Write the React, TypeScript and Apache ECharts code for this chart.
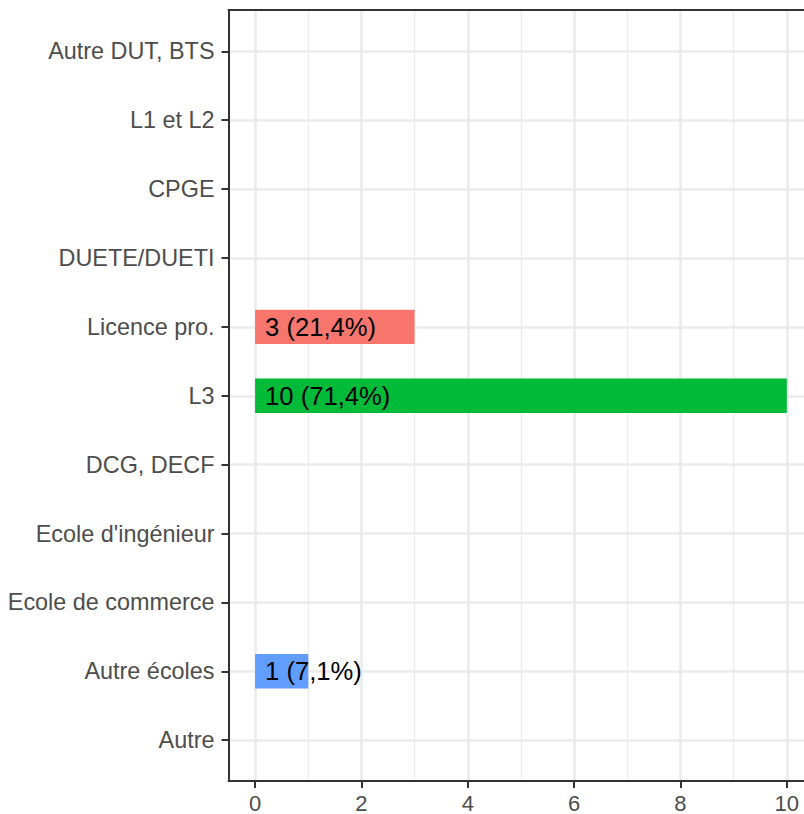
import React, { useEffect, useRef } from "react";
import * as echarts from "echarts";

const categories = [
  "Autre DUT, BTS",
  "L1 et L2",
  "CPGE",
  "DUETE/DUETI",
  "Licence pro.",
  "L3",
  "DCG, DECF",
  "Ecole d'ingénieur",
  "Ecole de commerce",
  "Autre écoles",
  "Autre",
];
const counts: (number | null)[] = [null, null, null, null, 3, 10, null, null, null, 1, null];
const barColors: (string | null)[] = [null, null, null, null, "#F8766D", "#00BA38", null, null, null, "#619CFF", null];
const majorTicks = [0, 2, 4, 6, 8, 10];
const minorTicks = [1, 3, 5, 7, 9];

const W = 820;
const H = 814;
const FONT = "'Liberation Sans', Arial, Helvetica, sans-serif";

export default function App() {
  const ref = useRef<HTMLDivElement>(null);
  useEffect(() => {
    if (!ref.current) return;
    const chart = echarts.init(ref.current, undefined, { renderer: "svg" });
    const total = counts.reduce((s: number, v) => s + (v ?? 0), 0);
    const data = counts.map((v, i) =>
      v == null
        ? "-"
        : {
            value: v,
            itemStyle: { color: barColors[i] },
          }
    );
    const left = 228.5;
    const right = W - 813.4;
    const xMin = -0.5;
    const xMax = 10.5;
    chart.setOption({
      animation: false,
      backgroundColor: "#FFFFFF",
      grid: [
        { left, right, top: 10, bottom: H - 781.5, containLabel: false },
        { left, right, top: 51.3, bottom: H - 740.2, containLabel: false },
      ],
      xAxis: [
        {
          type: "value",
          gridIndex: 0,
          position: "bottom",
          min: xMin,
          max: xMax,
          z: 5,
          axisLine: { show: true, onZero: false, lineStyle: { color: "#333333", width: 2 } },
          axisTick: {
            show: true,
            length: 7,
            customValues: majorTicks,
            lineStyle: { color: "#333333", width: 2 },
          },
          axisLabel: {
            show: true,
            customValues: majorTicks,
            color: "#4D4D4D",
            fontSize: 22,
            fontFamily: FONT,
            margin: 11,
          },
          splitLine: { show: false },
        },
        {
          type: "value",
          gridIndex: 0,
          position: "bottom",
          min: xMin,
          max: xMax,
          z: 0,
          axisLine: { show: false, onZero: false },
          axisTick: { show: false, customValues: majorTicks },
          axisLabel: { show: false, customValues: majorTicks },
          splitLine: { show: true, lineStyle: { color: "#EBEBEB", width: 2.5 } },
        },
        {
          type: "value",
          gridIndex: 0,
          position: "top",
          min: xMin,
          max: xMax,
          z: 0,
          axisLine: { show: false, onZero: false },
          axisTick: { show: false, customValues: minorTicks },
          axisLabel: { show: false, customValues: minorTicks },
          splitLine: { show: true, lineStyle: { color: "#EBEBEB", width: 1.3 } },
        },
        {
          type: "value",
          gridIndex: 0,
          position: "top",
          min: xMin,
          max: xMax,
          z: 5,
          axisLine: { show: true, onZero: false, lineStyle: { color: "#333333", width: 2 } },
          axisTick: { show: false },
          axisLabel: { show: false },
          splitLine: { show: false },
        },
        {
          type: "value",
          gridIndex: 1,
          min: xMin,
          max: xMax,
          show: false,
          axisLine: { onZero: false },
        },
      ],
      yAxis: [
        {
          type: "value",
          gridIndex: 0,
          position: "left",
          min: 0,
          max: 1,
          z: 5,
          axisLine: { show: true, onZero: false, lineStyle: { color: "#333333", width: 2 } },
          axisTick: { show: false },
          axisLabel: { show: false },
          splitLine: { show: false },
        },
        {
          type: "category",
          gridIndex: 1,
          position: "left",
          data: categories,
          inverse: true,
          boundaryGap: false,
          z: 1,
          axisLine: { show: false, onZero: false },
          axisTick: {
            show: true,
            length: 7,
            alignWithLabel: true,
            lineStyle: { color: "#333333", width: 2 },
          },
          axisLabel: {
            show: true,
            interval: 0,
            color: "#4D4D4D",
            fontSize: 23.4,
            fontFamily: FONT,
            margin: 14,
          },
          splitLine: { show: true, interval: 0, lineStyle: { color: "#EBEBEB", width: 2.5 } },
        },
      ],
      series: [
        {
          type: "bar",
          xAxisIndex: 4,
          yAxisIndex: 1,
          data,
          barWidth: 34.4,
          z: 3,
          label: {
            show: true,
            position: "insideLeft",
            distance: 10,
            color: "#000000",
            fontSize: 25.6,
            fontFamily: FONT,
            formatter: (p: any) => {
              const v = p.value as number;
              const pct = ((v / total) * 100).toFixed(1).replace(".", ",");
              return `${v} (${pct}%)`;
            },
          },
        },
      ],
    });
    return () => chart.dispose();
  }, []);
  return (
    <div
      style={{
        position: "fixed",
        left: 0,
        top: 0,
        width: 804,
        height: 814,
        overflow: "hidden",
        background: "#fff",
      }}
    >
      <div ref={ref} style={{ width: W, height: H }} />
    </div>
  );
}
